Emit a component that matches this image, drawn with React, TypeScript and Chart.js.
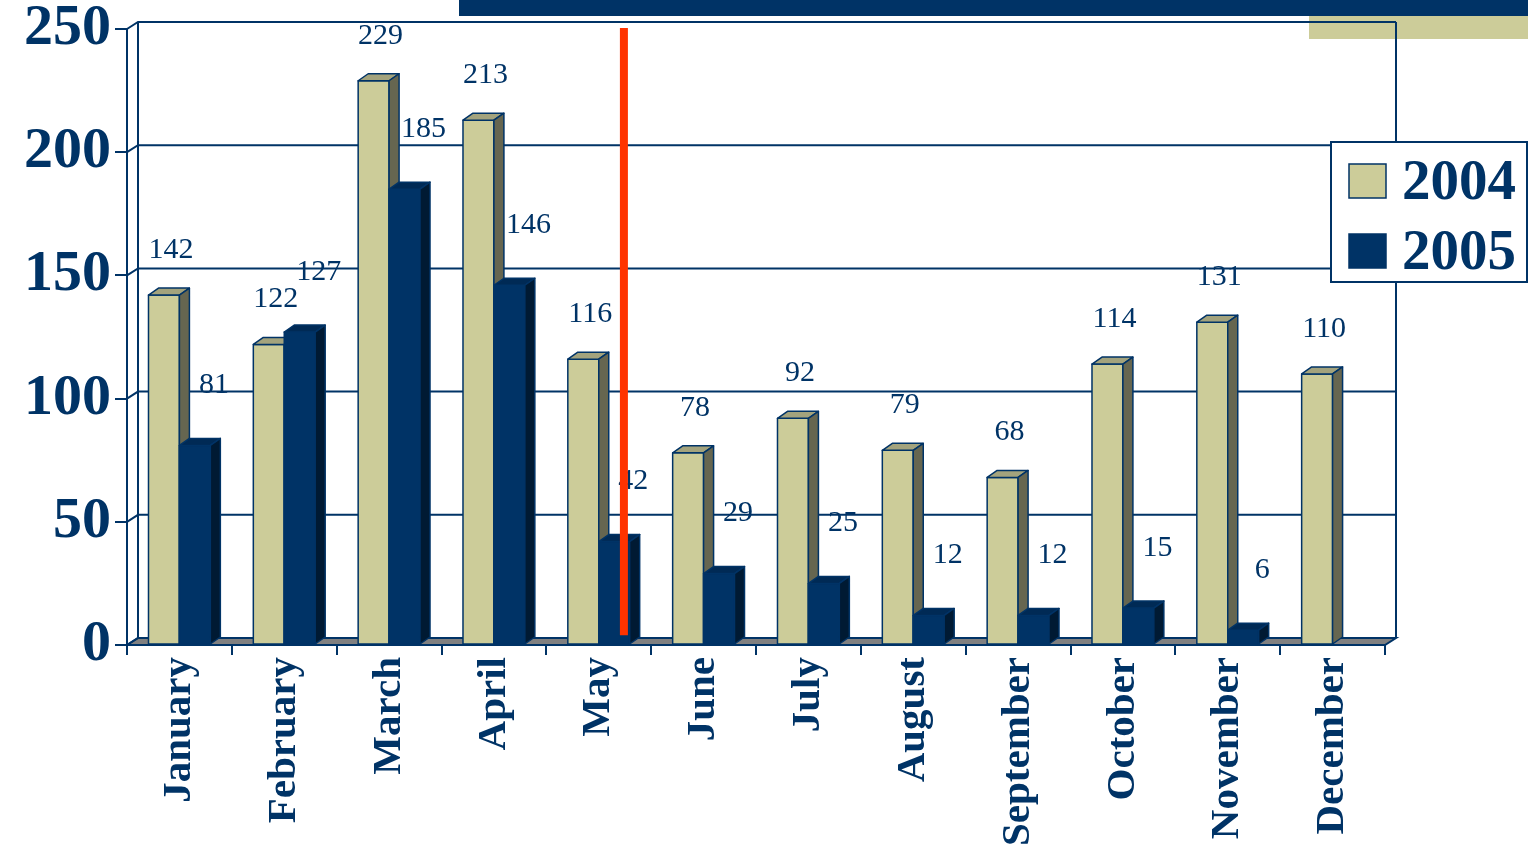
import React, { useEffect, useRef } from 'react';
import { Chart, registerables } from 'chart.js';

Chart.register(...registerables);

// ---- data ----
const months = ['January', 'February', 'March', 'April', 'May', 'June', 'July', 'August', 'September', 'October', 'November', 'December'];
const seriesNames = ['2004', '2005'];
const sales2004 = [142, 122, 229, 213, 116, 78, 92, 79, 68, 114, 131, 110];
const sales2005: (number | null)[] = [81, 127, 185, 146, 42, 29, 25, 12, 12, 15, 6, null];
const yMin = 0;
const yMax = 250;
const yStep = 50;
// red marker line position (category index) and value span
const markerAt = 4.24;
const markerFrom = 4;
const markerTo = 250;

// ---- styles ----
const NAVY = '#003366';
const KHAKI = '#CCCC99';
const RED = '#FF3300';
const SERIF = '"Liberation Serif", "Times New Roman", Times, serif';
const faces = [
  { front: KHAKI, top: '#A3A37D', side: '#666650' },
  { front: NAVY, top: '#002A55', side: '#001A33' },
];
const labelOffsets = [
  { dx: 7, dy: -45 },
  { dx: 19, dy: -60 },
];
const WALL = { dx: 11, dy: -7 };
const BAR = { dx: 10, dy: -7 };

const threeD = {
  id: 'threeD',
  beforeDatasetsDraw(chart: any) {
    const { ctx, chartArea, scales } = chart;
    const { left, right, top, bottom } = chartArea;
    const y = scales.y;
    ctx.save();
    ctx.lineWidth = 2;
    ctx.strokeStyle = NAVY;
    // floor
    ctx.beginPath();
    ctx.moveTo(left, bottom);
    ctx.lineTo(right, bottom);
    ctx.lineTo(right + WALL.dx, bottom + WALL.dy);
    ctx.lineTo(left + WALL.dx, bottom + WALL.dy);
    ctx.closePath();
    ctx.fillStyle = '#808080';
    ctx.fill();
    ctx.stroke();
    // grid lines on back wall with side-wall diagonals
    y.ticks.forEach((t: any) => {
      const py = y.getPixelForValue(t.value);
      ctx.beginPath();
      ctx.moveTo(left, py);
      ctx.lineTo(left + WALL.dx, py + WALL.dy);
      ctx.lineTo(right + WALL.dx, py + WALL.dy);
      ctx.stroke();
    });
    // back wall verticals
    ctx.beginPath();
    ctx.moveTo(left + WALL.dx, top + WALL.dy);
    ctx.lineTo(left + WALL.dx, bottom + WALL.dy);
    ctx.moveTo(right + WALL.dx, top + WALL.dy);
    ctx.lineTo(right + WALL.dx, bottom + WALL.dy);
    ctx.stroke();
    ctx.restore();
  },
  afterDatasetsDraw(chart: any) {
    const { ctx, scales } = chart;
    const metas = chart.data.datasets.map((_: any, i: number) => chart.getDatasetMeta(i));
    ctx.save();
    ctx.lineWidth = 1.5;
    ctx.strokeStyle = NAVY;
    ctx.lineJoin = 'round';
    for (let i = 0; i < months.length; i++) {
      metas.forEach((meta: any, d: number) => {
        const v = chart.data.datasets[d].data[i];
        if (v === null || v === undefined) return;
        const el = meta.data[i];
        const { x, y, base, width } = el.getProps(['x', 'y', 'base', 'width'], true);
        const l = x - width / 2;
        const r = x + width / 2;
        const f = faces[d];
        // front
        ctx.fillStyle = f.front;
        ctx.fillRect(l, y, width, base - y);
        ctx.strokeRect(l, y, width, base - y);
        // top
        ctx.beginPath();
        ctx.moveTo(l, y);
        ctx.lineTo(r, y);
        ctx.lineTo(r + BAR.dx, y + BAR.dy);
        ctx.lineTo(l + BAR.dx, y + BAR.dy);
        ctx.closePath();
        ctx.fillStyle = f.top;
        ctx.fill();
        ctx.stroke();
        // side
        ctx.beginPath();
        ctx.moveTo(r, y);
        ctx.lineTo(r + BAR.dx, y + BAR.dy);
        ctx.lineTo(r + BAR.dx, base + BAR.dy);
        ctx.lineTo(r, base);
        ctx.closePath();
        ctx.fillStyle = f.side;
        ctx.fill();
        ctx.stroke();
      });
    }
    // data labels
    ctx.font = `30px ${SERIF}`;
    ctx.fillStyle = NAVY;
    ctx.textAlign = 'center';
    ctx.textBaseline = 'middle';
    metas.forEach((meta: any, d: number) => {
      meta.data.forEach((el: any, i: number) => {
        const v = chart.data.datasets[d].data[i];
        if (v === null || v === undefined) return;
        const { x, y } = el.getProps(['x', 'y'], true);
        ctx.fillText(String(v), x + labelOffsets[d].dx, y + labelOffsets[d].dy);
      });
    });
    // red marker
    const mx = scales.x.getPixelForValue(markerAt);
    ctx.strokeStyle = RED;
    ctx.lineWidth = 8;
    ctx.beginPath();
    ctx.moveTo(mx, scales.y.getPixelForValue(markerTo) - 1);
    ctx.lineTo(mx, scales.y.getPixelForValue(markerFrom));
    ctx.stroke();
    ctx.restore();
  },
  afterDraw(chart: any) {
    const { ctx, chartArea } = chart;
    const bx = chartArea.right - 54;
    const by = chartArea.top + 113;
    const bw = 196;
    const bh = 140;
    ctx.save();
    ctx.fillStyle = '#FFFFFF';
    ctx.fillRect(bx, by, bw, bh);
    ctx.lineWidth = 2;
    ctx.strokeStyle = NAVY;
    ctx.strokeRect(bx, by, bw, bh);
    ctx.font = `bold 57px ${SERIF}`;
    ctx.textAlign = 'left';
    ctx.textBaseline = 'alphabetic';
    chart.data.datasets.forEach((ds: any, d: number) => {
      const sy = by + 22 + d * 70;
      ctx.fillStyle = faces[d].front;
      ctx.fillRect(bx + 18, sy, 37, 34);
      ctx.lineWidth = 1.5;
      ctx.strokeStyle = NAVY;
      ctx.strokeRect(bx + 18, sy, 37, 34);
      ctx.fillStyle = NAVY;
      ctx.fillText(ds.label, bx + 71, sy + 35);
    });
    ctx.restore();
  },
};

export default function App() {
  const ref = useRef<HTMLCanvasElement | null>(null);
  useEffect(() => {
    if (!ref.current) return;
    const chart = new Chart(ref.current, {
      type: 'bar',
      data: {
        labels: months,
        datasets: [
          {
            label: seriesNames[0],
            data: sales2004,
            backgroundColor: faces[0].front,
            borderColor: NAVY,
            borderWidth: 1.5,
            categoryPercentage: 0.59,
            barPercentage: 1,
          },
          {
            label: seriesNames[1],
            data: sales2005,
            backgroundColor: faces[1].front,
            borderColor: NAVY,
            borderWidth: 1.5,
            categoryPercentage: 0.59,
            barPercentage: 1,
          },
        ],
      },
      options: {
        responsive: false,
        animation: false,
        layout: { padding: { left: 0, right: 143, top: 29, bottom: 0 } },
        plugins: {
          legend: { display: false },
          tooltip: { enabled: false },
        },
        scales: {
          x: {
            offset: true,
            grid: {
              display: true,
              offset: true,
              drawOnChartArea: false,
              drawTicks: true,
              tickLength: 10,
              color: NAVY,
              lineWidth: 2,
            },
            border: { display: true, color: NAVY, width: 2 },
            ticks: {
              autoSkip: false,
              minRotation: 90,
              maxRotation: 90,
              padding: 2,
              color: NAVY,
              font: { family: SERIF, size: 41, weight: 'bold' },
            },
            afterFit: (s: any) => {
              s.height = 201;
              s.paddingLeft = 0;
              s.paddingRight = 0;
            },
          },
          y: {
            min: yMin,
            max: yMax,
            ticks: {
              stepSize: yStep,
              padding: 4,
              color: NAVY,
              font: { family: SERIF, size: 58, weight: 'bold' },
            },
            grid: {
              drawOnChartArea: false,
              drawTicks: true,
              tickLength: 12,
              color: NAVY,
              lineWidth: 2,
            },
            border: { display: true, color: NAVY, width: 2 },
            afterFit: (s: any) => {
              s.width = 127;
              s.paddingTop = 0;
              s.paddingBottom = 0;
            },
          },
        },
      } as any,
      plugins: [threeD],
    });
    return () => chart.destroy();
  }, []);

  return (
    <div style={{ position: 'fixed', left: 0, top: 0, width: 1528, height: 846, overflow: 'hidden', background: '#FFFFFF' }}>
      <div style={{ position: 'absolute', left: 459, top: 0, width: 1069, height: 16, background: NAVY }} />
      <div style={{ position: 'absolute', left: 1309, top: 16, width: 219, height: 23, background: KHAKI }} />
      <canvas ref={ref} width={1528} height={846} style={{ position: 'absolute', left: 0, top: 0, width: 1528, height: 846 }} />
    </div>
  );
}
